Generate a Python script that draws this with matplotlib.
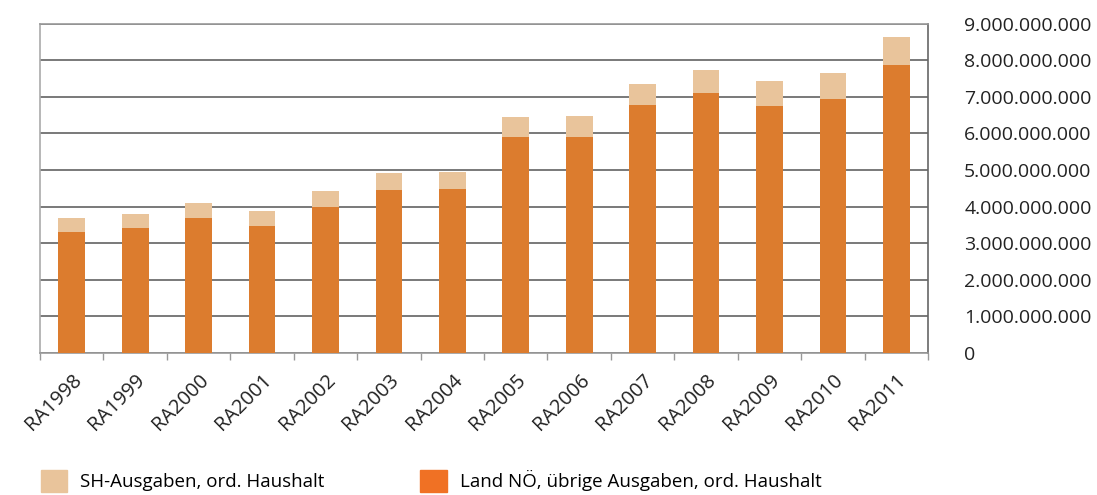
import numpy as np
import matplotlib.pyplot as plt
from matplotlib.patches import Patch
from matplotlib.ticker import FuncFormatter

plt.rcParams['font.family'] = ['Open Sans', 'DejaVu Sans']

years = ['RA1998', 'RA1999', 'RA2000', 'RA2001', 'RA2002', 'RA2003', 'RA2004',
         'RA2005', 'RA2006', 'RA2007', 'RA2008', 'RA2009', 'RA2010', 'RA2011']
# Land NOE, uebrige Ausgaben (bottom), in Mrd
land_noe = [3.31, 3.42, 3.69, 3.47, 3.99, 4.45, 4.48, 5.90, 5.90, 6.78, 7.10, 6.75, 6.94, 7.87]
# totals incl. SH-Ausgaben, in Mrd
total = [3.69, 3.80, 4.10, 3.88, 4.43, 4.92, 4.95, 6.45, 6.48, 7.35, 7.73, 7.43, 7.65, 8.63]

land_noe = np.array(land_noe) * 1e9
sh = np.array(total) * 1e9 - land_noe

C_DARK = '#dc7c2e'
C_LIGHT = '#e9c49b'
C_LEG = '#f07124'

fig = plt.figure(figsize=(10.97, 4.95), dpi=100)
ax = fig.add_axes([0.0365, 0.287, 0.8095, 0.665])

x = np.arange(len(years))
ax.bar(x, land_noe, width=0.42, color=C_DARK, zorder=3)
ax.bar(x, sh, bottom=land_noe, width=0.42, color=C_LIGHT, zorder=3)

ax.set_xlim(-0.5, len(years) - 0.5)
ax.set_ylim(0, 9e9)
ax.set_yticks(np.arange(0, 9.5e9, 1e9))
ax.yaxis.set_major_formatter(FuncFormatter(lambda v, p: f'{int(round(v)):,}'.replace(',', '.')))
ax.yaxis.tick_right()
ax.tick_params(axis='y', length=0, pad=26, labelsize=14, labelcolor='#222222')
ax.grid(axis='y', color='#6e6e6e', linewidth=1.3, zorder=0)

ax.set_xticks(x)
ax.set_xticklabels(years, rotation=45, ha='right', rotation_mode='anchor', fontsize=14.5, color='#222222')
ax.tick_params(axis='x', length=0, pad=12)
ax.set_xticks(np.arange(-0.5, len(years)), minor=True)
ax.tick_params(axis='x', which='minor', length=5, color='#999999', width=1)

ax.spines['left'].set_color('#aaaaaa')
ax.spines['top'].set_color('#999999')
ax.spines['right'].set_color('#666666')
ax.spines['bottom'].set_color('#999999')
for s in ax.spines.values():
    s.set_linewidth(1.2)

handles = [Patch(color=C_LIGHT, label='SH-Ausgaben, ord. Haushalt'),
           Patch(color=C_LEG, label='Land NÖ, übrige Ausgaben, ord. Haushalt')]
fig.legend(handles=handles, loc='lower left', bbox_to_anchor=(0.022, -0.028), ncol=2,
           frameon=False, fontsize=13.5, handlelength=1.4, handleheight=1.4,
           columnspacing=5.1, handletextpad=0.7)

fig.savefig('out.png', dpi=100)
